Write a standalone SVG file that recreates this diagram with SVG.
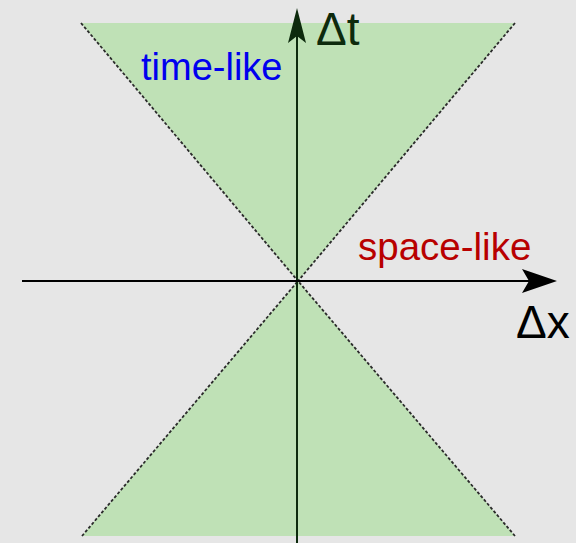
<svg xmlns="http://www.w3.org/2000/svg" width="576" height="543" viewBox="0 0 576 543">
<style>
.cone{fill:#bfe1b6;stroke:none}
.edge{fill:none;stroke:#2a2a2a;stroke-width:1.8;stroke-dasharray:3 2}
.axis{fill:none;stroke-width:2}
.lbl{font-family:"Liberation Sans",Arial,sans-serif}
</style>
<rect width="576" height="543" fill="#e6e6e6"/>
<g id="timelike-future">
<polygon class="cone" points="81,23 515,23 298,281"/>
</g>
<g id="timelike-past">
<polygon class="cone" points="82,536 515,536 298,281"/>
</g>
<g id="connectors">
<line class="edge" x1="81" y1="23" x2="298" y2="281"/>
<line class="edge" x1="515" y1="23" x2="298" y2="281"/>
<line class="edge" x1="82" y1="536" x2="298" y2="281"/>
<line class="edge" x1="515" y1="536" x2="298" y2="281"/>
<path d="M297,543 L297,12" class="axis" stroke="#0d2a0d"/>
<path d="M22,281 L552,281" class="axis" stroke="#000"/>
<path d="M297,8 L306,43 L297,36 L288,43 Z" fill="#0d2a0d"/>
<path d="M557,281 L522,269 L529,281 L522,293 Z" fill="#000"/>
</g>
<g id="label-dt"><text class="lbl" x="316" y="45" font-size="46" fill="#0d2a0d">Δt</text></g>
<g id="label-dx"><text class="lbl" x="516" y="338" font-size="46" fill="#000">Δx</text></g>
<g id="label-timelike"><text class="lbl" x="141" y="80" font-size="38" fill="#0000ee">time-like</text></g>
<g id="label-spacelike"><text class="lbl" x="358" y="260" font-size="38.5" fill="#b80000">space-like</text></g>
</svg>
